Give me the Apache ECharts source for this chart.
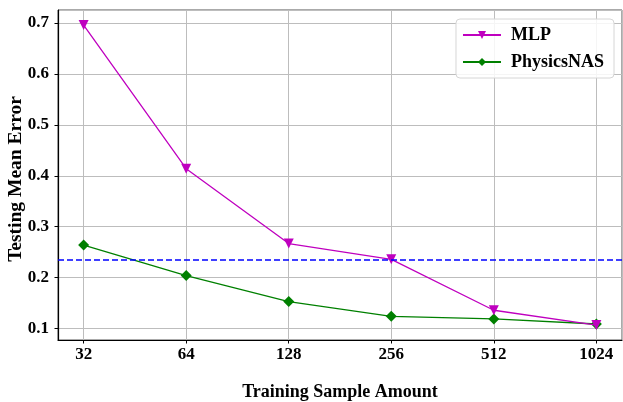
<!DOCTYPE html>
<html>
<head>
<meta charset="utf-8">
<script src="https://cdn.jsdelivr.net/npm/echarts@6/dist/echarts.min.js"></script>
<style>
  html, body { margin: 0; padding: 0; background: #fff; }
  #main { width: 623px; height: 402px; }
</style>
</head>
<body>
<div id="main"></div>
<script>
// training sample amounts (x, log2 scale)
const sampleSizes = [32, 64, 128, 256, 512, 1024];
// testing mean error per method
const mlpError = [0.696, 0.414, 0.267, 0.236, 0.136, 0.107];
const physicsNasError = [0.264, 0.204, 0.153, 0.124, 0.119, 0.109];
// horizontal reference (dashed blue)
const baselineError = 0.236;

const font = 'Liberation Serif';
const chart = echarts.init(document.getElementById('main'));

const option = {
  animation: false,
  backgroundColor: '#fff',
  textStyle: { fontFamily: font },
  grid: {
    left: 58, right: 1, top: 10, bottom: 62,
    outerBoundsMode: 'none',
    containLabel: false,
    show: true, borderColor: '#555', borderWidth: 1
  },
  legend: {
    orient: 'vertical',
    right: 9, top: 19,
    padding: [7, 10, 7, 6],
    itemGap: 9,
    itemWidth: 38, itemHeight: 10,
    backgroundColor: 'rgba(255,255,255,0.85)',
    borderColor: '#d6d6d6', borderWidth: 1, borderRadius: 4,
    textStyle: { fontFamily: font, fontWeight: 'bold', fontSize: 18, color: '#000', padding: [0, 0, 0, 5] },
    data: ['MLP', 'PhysicsNAS']
  },
  xAxis: {
    type: 'log', logBase: 2,
    min: Math.pow(2, 4.75), max: Math.pow(2, 10.25),
    name: 'Training Sample Amount',
    nameLocation: 'middle', nameGap: 43,
    nameMoveOverlap: false,
    nameTextStyle: { fontFamily: font, fontWeight: 'bold', fontSize: 18, color: '#000' },
    axisLine: { lineStyle: { color: '#000', width: 1.2 } },
    axisTick: { show: true, length: 3.5, lineStyle: { color: '#000' } },
    axisLabel: {
      fontFamily: font, fontWeight: 'bold', fontSize: 17, color: '#000', margin: 6,
      showMinLabel: false, showMaxLabel: false,
      formatter: v => String(Math.round(v))
    },
    splitLine: { show: true, lineStyle: { color: '#bdbdbd', width: 1 } },
    minorTick: { show: false }
  },
  yAxis: {
    type: 'value',
    min: 0.0776, max: 0.7255,
    name: 'Testing Mean Error',
    nameLocation: 'middle', nameGap: 32,
    nameMoveOverlap: false,
    nameTextStyle: { fontFamily: font, fontWeight: 'bold', fontSize: 19.5, color: '#000', padding: [0, 8, 0, 0] },
    axisLine: { show: true, lineStyle: { color: '#000', width: 1.2 } },
    axisTick: { show: true, length: 3.5, lineStyle: { color: '#000' } },
    axisLabel: {
      fontFamily: font, fontWeight: 'bold', fontSize: 17, color: '#000', margin: 9,
      showMinLabel: false, showMaxLabel: false,
      formatter: v => v.toFixed(1)
    },
    splitLine: { show: true, lineStyle: { color: '#bdbdbd', width: 1 } }
  },
  series: [
    {
      name: 'MLP',
      type: 'line',
      data: sampleSizes.map((s, i) => [s, mlpError[i]]),
      symbol: 'triangle', symbolRotate: 180, symbolSize: 10,
      lineStyle: { color: '#bf00bf', width: 1.3 },
      itemStyle: { color: '#bf00bf' },
      markLine: {
        silent: true, symbol: 'none', label: { show: false },
        precision: 4,
        lineStyle: { color: '#0000ff', type: [6, 3], width: 1.5 },
        data: [{ yAxis: baselineError }]
      },
      z: 3
    },
    {
      name: 'PhysicsNAS',
      type: 'line',
      data: sampleSizes.map((s, i) => [s, physicsNasError[i]]),
      symbol: 'diamond', symbolSize: 11,
      lineStyle: { color: '#008000', width: 1.3 },
      itemStyle: { color: '#008000' },
      z: 2
    }
  ]
};

chart.setOption(option);
</script>
</body>
</html>
